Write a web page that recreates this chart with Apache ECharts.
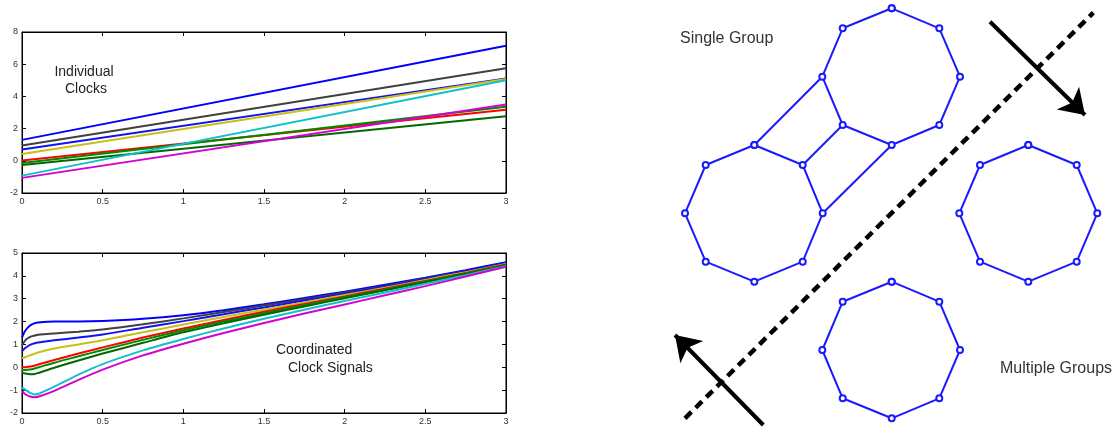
<!DOCTYPE html>
<html><head><meta charset="utf-8">
<script src="https://cdn.jsdelivr.net/npm/echarts@6/dist/echarts.min.js"></script>
<style>html,body{margin:0;padding:0;background:#fff}#c{width:1117px;height:434px}</style>
</head><body><div id="c"></div>
<script>
// ---------- data ----------
const clockNames  = ['clock1','clock2','clock3','clock4','clock5','clock6','clock7','clock8','clock9'];
const clockColors = ['#0000ff','#404040','#1212f0','#c8c012','#ff0000','#008a00','#006a00','#12c0c8','#d400d4'];
// individual clocks: value at t=0 and t=3
const indivStart = [1.30, 0.95, 0.70, 0.42, 0.02, -0.14, -0.26, -0.92, -1.06];
const indivEnd   = [7.15, 5.75, 5.12, 5.08, 3.17,  3.35,  2.76,  5.00,  3.50];
// coordinated clock signals
const coordT = [0,0.02,0.05,0.08,0.1,0.2,0.35,0.5,0.75,1,1.25,1.5,1.75,2,2.25,2.5,2.75,3];
const coord1 = [1.30,1.60,1.83,1.93,1.96,2.00,2.00,2.02,2.12,2.28,2.50,2.76,3.03,3.31,3.61,3.92,4.25,4.60];
const coord2 = [0.95,1.18,1.33,1.39,1.42,1.48,1.56,1.65,1.88,2.14,2.42,2.70,2.98,3.26,3.56,3.88,4.20,4.55];
const coord3 = [0.70,0.84,0.98,1.05,1.08,1.18,1.30,1.43,1.73,2.02,2.32,2.62,2.92,3.22,3.53,3.86,4.20,4.57];
const coord4 = [0.40,0.44,0.52,0.60,0.65,0.82,1.00,1.18,1.53,1.87,2.20,2.52,2.84,3.16,3.48,3.82,4.16,4.52];
const coord5 = [0.00,0.00,0.03,0.08,0.12,0.32,0.60,0.87,1.30,1.70,2.07,2.43,2.77,3.10,3.44,3.78,4.13,4.50];
const coord6 = [-0.12,-0.12,-0.10,-0.05,-0.01,0.20,0.48,0.76,1.20,1.62,2.00,2.36,2.71,3.06,3.40,3.75,4.10,4.48];
const coord7 = [-0.25,-0.27,-0.30,-0.29,-0.25,-0.02,0.30,0.60,1.07,1.53,1.93,2.30,2.66,3.02,3.37,3.72,4.08,4.46];
const coord8 = [-0.88,-0.98,-1.12,-1.19,-1.17,-0.85,-0.32,0.14,0.74,1.24,1.70,2.12,2.52,2.90,3.27,3.65,4.03,4.42];
const coord9 = [-1.03,-1.18,-1.28,-1.31,-1.29,-1.03,-0.55,-0.10,0.52,1.03,1.50,1.94,2.35,2.75,3.15,3.55,3.97,4.40];
const coordSeries = [coord1,coord2,coord3,coord4,coord5,coord6,coord7,coord8,coord9];

const xTickLabels = ['0','0.5','1','1.5','2','2.5','3'];

// network diagram (diagram units, y downward)
const groupA = [[231.7,8.3],[279.3,28.3],[300,76.7],[279.3,125],[231.7,145],[182.7,125],[162.3,76.7],[182.7,28.3]];
const groupB = [[94.3,145],[142.7,165],[162.7,213.3],[142.7,261.7],[94.3,281.7],[45.7,261.7],[25,213.3],[45.7,165]];
const groupC = [[368.3,145],[416.7,165],[437.3,213.3],[416.7,261.7],[368.3,281.7],[320,261.7],[299.3,213.3],[320,165]];
const groupD = [[231.7,281.7],[279.3,301.7],[300,350],[279.3,398.3],[231.7,418.3],[182.7,398.3],[162.3,350],[182.7,301.7]];
const bridgeAB = [[6,0],[5,1],[4,2]]; // groupA node -> groupB node
const dividerLine = [[25,418.3],[433.3,12.7]];
const arrowSplit = [[330,21.7],[425,115]];
const arrowMerge = [[103.3,425],[15,335]];

// ---------- chart ----------
const chart = echarts.init(document.getElementById('c'));
const FONT = 'Liberation Sans, Arial, sans-serif';

function plotAxes(gi, ymin, ymax, yint) {
  const lab = {fontSize: 9, color: '#333', fontFamily: FONT};
  const tick = {show: true, inside: true, length: 4, lineStyle: {color: '#000'}};
  const line = {show: true, onZero: false, lineStyle: {color: '#000', width: 1}};
  return {
    x: [
      {type: 'value', gridIndex: gi, min: 0, max: 3, interval: 0.5, position: 'bottom',
       axisLine: line, axisTick: tick, splitLine: {show: false},
       axisLabel: Object.assign({margin: 4, formatter: v => xTickLabels[Math.round(v * 2)]}, lab)},
      {type: 'value', gridIndex: gi, min: 0, max: 3, interval: 0.5, position: 'top',
       axisLine: line, axisTick: tick, splitLine: {show: false}, axisLabel: {show: false}}
    ],
    y: [
      {type: 'value', gridIndex: gi, min: ymin, max: ymax, interval: yint, position: 'left',
       axisLine: line, axisTick: tick, splitLine: {show: false},
       axisLabel: Object.assign({margin: 4}, lab)},
      {type: 'value', gridIndex: gi, min: ymin, max: ymax, interval: yint, position: 'right',
       axisLine: line, axisTick: tick, splitLine: {show: false}, axisLabel: {show: false}}
    ]
  };
}
const a0 = plotAxes(0, -2, 8, 2);
const a1 = plotAxes(1, -2, 5, 1);

const xAxes = [...a0.x, ...a1.x,
  {type: 'value', gridIndex: 2, min: 0, max: 457, show: false}];
const yAxes = [...a0.y, ...a1.y,
  {type: 'value', gridIndex: 2, min: 0, max: 434, inverse: true, show: false}];

const series = [];
clockNames.forEach((n, i) => {
  series.push({
    name: n + ' individual', type: 'line', xAxisIndex: 0, yAxisIndex: 0,
    data: [[0, indivStart[i]], [3, indivEnd[i]]],
    showSymbol: false, lineStyle: {color: clockColors[i], width: 2}, silent: true, z: 3
  });
});
clockNames.forEach((n, i) => {
  series.push({
    name: n + ' coordinated', type: 'line', xAxisIndex: 2, yAxisIndex: 2,
    data: coordT.map((t, k) => [t, coordSeries[i][k]]),
    smooth: 0.25,
    showSymbol: false, lineStyle: {color: clockColors[i], width: 2}, silent: true, z: 3
  });
});

const BLUE = '#1a1aff';
[groupA, groupB, groupC, groupD].forEach((g, gi) => {
  series.push({
    name: 'group' + gi, type: 'line', xAxisIndex: 4, yAxisIndex: 4,
    data: g.concat([g[0]]),
    symbol: 'emptyCircle', symbolSize: 6, showSymbol: true, showAllSymbol: true,
    lineStyle: {color: BLUE, width: 2}, itemStyle: {color: BLUE, borderWidth: 2},
    silent: true, z: 4
  });
});
series.push({
  name: 'bridges', type: 'lines', coordinateSystem: 'cartesian2d', xAxisIndex: 4, yAxisIndex: 4,
  data: bridgeAB.map(([a, b]) => ({coords: [groupA[a], groupB[b]]})),
  lineStyle: {color: BLUE, width: 2, opacity: 1}, silent: true, z: 3
});
series.push({
  name: 'divider', type: 'lines', coordinateSystem: 'cartesian2d', xAxisIndex: 4, yAxisIndex: 4,
  data: [{coords: dividerLine}],
  lineStyle: {color: '#000', width: 4.5, type: [9, 6], opacity: 1}, silent: true, z: 2
});
series.push({
  name: 'arrows', type: 'lines', coordinateSystem: 'cartesian2d', xAxisIndex: 4, yAxisIndex: 4,
  data: [{coords: arrowSplit}, {coords: arrowMerge}],
  symbol: ['none', 'arrow'], symbolSize: 24,
  lineStyle: {color: '#000', width: 4, opacity: 1}, silent: true, z: 2
});

const txt = (x, y, s, align) => ({
  type: 'text', x: x, y: y, silent: true, z: 10,
  style: {text: s, fill: '#222', font: '14px ' + FONT, textAlign: align, textVerticalAlign: 'middle'}
});
const txtBig = (x, y, s) => ({
  type: 'text', x: x, y: y, silent: true, z: 10,
  style: {text: s, fill: '#333', font: '16px ' + FONT, textAlign: 'left', textVerticalAlign: 'middle'}
});

chart.setOption({
  animation: false,
  backgroundColor: '#fff',
  grid: [
    {left: 22, top: 32, width: 484, height: 161, show: true, borderColor: '#000', borderWidth: 1, backgroundColor: 'transparent'},
    {left: 22, top: 253, width: 484, height: 160, show: true, borderColor: '#000', borderWidth: 1, backgroundColor: 'transparent'},
    {left: 660, top: 0, width: 457, height: 434, show: false}
  ],
  xAxis: xAxes,
  yAxis: yAxes,
  series: series,
  graphic: [
    txt(84, 72, 'Individual', 'center'),
    txt(86, 89, 'Clocks', 'center'),
    txt(276, 350, 'Coordinated', 'left'),
    txt(288, 368, 'Clock Signals', 'left'),
    txtBig(680, 39, 'Single Group'),
    txtBig(1000, 369, 'Multiple Groups')
  ]
});
</script></body></html>
